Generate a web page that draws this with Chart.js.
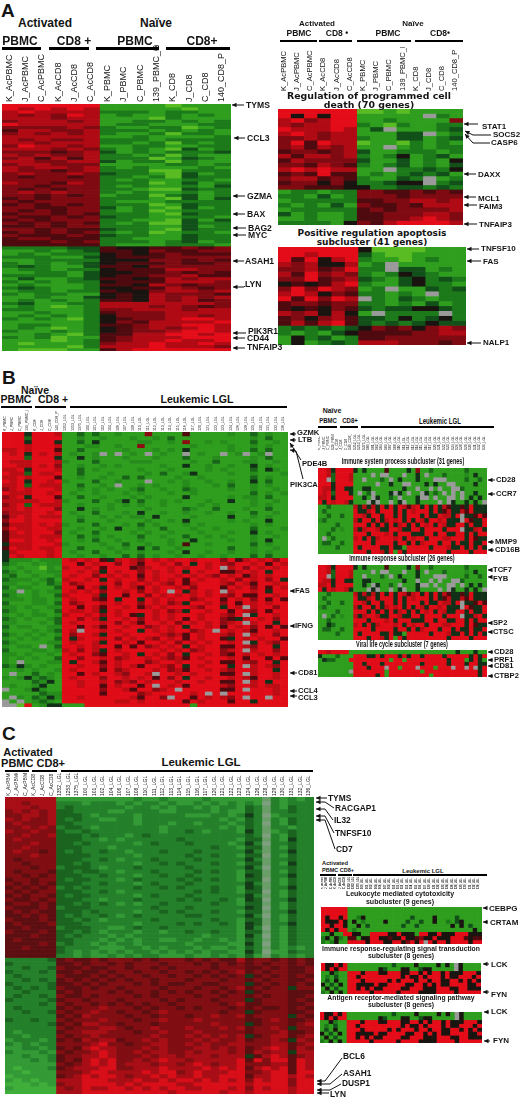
<!DOCTYPE html>
<html><head><meta charset="utf-8">
<script src="https://cdn.jsdelivr.net/npm/chart.js@4/dist/chart.umd.min.js"></script>
<style>
html,body{margin:0;padding:0;background:#fff}
#page{position:relative;width:520px;height:1098px;overflow:hidden;background:#fff;font-family:"Liberation Sans",Arial,sans-serif;filter:blur(.35px)}
#page canvas{position:absolute;display:block}
#page svg{position:absolute;left:0;top:0}
.t{position:absolute;white-space:nowrap;font-weight:bold;color:#141414;line-height:1;transform:translateY(-50%)}
.bar{position:absolute;background:#000}
</style></head><body><div id="page"></div>
<script>
// Cell levels: 0..3 green (bright to dark), 4 black, 5..8 red (dark to bright), 9 muted green, . missing
const SAMPLES_A=["K_AcPBMC","J_AcPBMC","C_AcPBMC","K_AcCD8","J_AcCD8","C_AcCD8","K_PBMC","J_PBMC","C_PBMC","139_PBMC_P","K_CD8","J_CD8","C_CD8","140_CD8_P"];
const LGL=["1352_LGL","1253_LGL","1375_LGL","100_LGL","101_LGL","102_LGL","104_LGL","106_LGL","107_LGL","108_LGL","110_LGL","111_LGL","112_LGL","113_LGL","114_LGL","115_LGL","116_LGL","117_LGL","120_LGL","121_LGL","122_LGL","123_LGL","124_LGL","126_LGL","128_LGL","129_LGL","130_LGL","131_LGL","132_LGL","136_LGL"];
const SAMPLES_B=SAMPLES_A.slice(6).concat(LGL);
const SAMPLES_C=SAMPLES_A.slice(0,6).concat(LGL);

const HEAT_A_MAIN=[
"888888 11110111","878787 11111011","787777 22212211","767687 12112121","777677 11102111","677767 11221212",
"877777 12211122","666676 21122012","577667 22212121","676767 21120221","777777 11211112","767667 22212222",
"776777 22120212","687767 11221122","777676 21210312","666567 31212223","767667 22120211","675757 22201321",
"776677 31220211","677666 11112212","767767 21211121","766567 22200222","676676 32210312","656656 22120322",
"666666 21211221","766576 22201312","665666 21211213","656566 22100322","676766 21211212","665656 12202312",
"565666 22210313","656666 21112222","565656 22201322","665566 31210312","656566 21201222","566565 22210322",
"655656 32211221","565666 22110313","656565 21200322","556566 22211312","665655 32210322","565656 21201221",
"655565 32211322","566555 22111322","555656 22212312","555555 21112221",
"222233 54455656","112123 55465566","121222 45456555","222113 45556666","112222 44466565","212123 45556556",
"232113 55466666","122122 45557766","112213 44556565","222213 45566755","131123 55457677","212122 45557776",
"121112 55476566","232112 44557656","122122 54467767","212211 45476665","112113 45476767","121212 55476756",
"231122 77777776","121012 77767656","221112 66777677","112112 56667777","121212 46667767","212102 45667887",
"111112 46577778","122112 55677887","121012 45676787","211212 45667887","112102 55778878","212011 56777888",
"111012 56778778","101112 67787787","111102 77787776","100011 57888888"];

const HEAT_A1=[
"888888 00101111","848488 11111.21","786788 11211116","767788 21021122","877787 13.11123","787677 11133.12",
"667677 21133123","685877 01102121","675767 11.12122","566567 31122212","757767 21241231","576666 31131214",
"665765 21231213","787877 11.22324","565855 12123231","677565 21132.12","566464 22344.23","665554 42233232",
"122122 66556565","221312 66656666","122222 55667767","212131 65565777","122222 56566667","312112 55666776",
"112112 55667876","222214 65788887"];

const HEAT_A2=[
"888888 40000111","887888 31001111","858478 21101211","767447 12.11111","667568 22.33121","758676 21243211",
"668567 32134232","454578 21134221","686876 12.11323","787465 22121.22","858687 .2132122","566566 22121312",
"545465 32334432","767474 1.2222.2","564675 33242342","575785 32323433",
"232323 46564676","212134 55556677","142312 55666666","141232 77766656"];

const HEAT_B_MAIN=[
"88848887 1131311211 1611115111 1121131211","88838888 1121121112 1121311111 1111121311","88848884 1131411111 2211216112 1211131121",
"88878887 1112211211 6111111211 1121121211","77878885 1131111121 1121214111 1121131311","87848787 12112.1.12 1.1211.121 1.12.12.11",
"88838884 1141211121 1121113111 2111121311","87778887 2111311112 2211111211 3111221121","88778786 1121121211 1112114112 1121141211",
"77848887 1131211111 2111211112 1211131421","87738778 1131112111 1213112411 1121121112","77878885 1121121131 3111121121 1111131211",
"87848878 2111311211 1.11212112 1121141311","77838777 1131121.11 2121112111 2131121211","67878887 1121212112 3112113211 1121121121",
"87778878 1211211121 2111211211 1111131212","67848885 1131121112 1211114111 1121221311","77777887 2111311241 3112121112 1141121121",
"67838777 1121112121 2112111121 2111121211","77878886 1141212111 1211113211 3111211311","67778878 1211311121 4112112112 1121131121",
"57878777 1121121212 2141111211 1141121211","68878888 1131112111 1211214111 1121211411","57778787 2111311121 3121112121 1111121211",
"68778877 1121121411 2113111211 2111131112","57878886 1211311112 1211211121 1121141211","57778777 1131212111 3112113112 1211121121",
"58878878 1121311211 2111211411 1121121411","47778887 2111121131 1211215112 1111131211","58778778 1131112121 4131121111 1131121121",
"47888878 1211311211 2111214112 1121121211","48788878 1121121131 3121121121 1211131311",
"42221222 8787854787 6878788788 8685787868","32112122 8858788687 5887868487 8768878587","21211021 7887858885 6788787887 8.78687878",
"32121122 8878748788 6878784878 8557878488","23112112 8788687878 5878878787 6878578788","32221231 7887848788 6878785878 8786878684",
"22112132 8678878687 8787685788 8768758878","31221113 8858748787 5878878688 8587868587","22.12122 8787868878 6878.84787 8.78878488",
"32112113 7888748858 8687878787 8768558878","22212212 8788658488 4878788678 8587868585","31112213 8678878788 6878674887 8685878788",
"22121122 8858758878 5787888768 8487.78868","32112113 8778748788 8878674887 8858768588","21212212 7887868785 4878788878 8768.48878",
"32121123 8868748878 6878785878 8654787868","22111213 8788878687 5887868787 8678.78848","31221122 8858758878 8678784887 8587868585",
"21112123 87.8878788 4878788678 .878758878","32121212 8688748878 8887675878 8768.78868","21212113 8478878687 8768785878 8548787885",
"32111122 8788748878 5887868787 8878.48768","21221.13 8878788585 8678784878 8558768848","31112212 7868748788 8887878678 8678.78868",
"22121121 8788658878 4878684887 8658787878","21212113 8868878678 8787675878 8878588585","21.11122 8488758788 8678878887 8558768848",
"32421211 8878868787 5887684878 8848.78768","11212112 8788858678 8878675887 8768878848","1.113121 8858788768 87.8878788 8558.78878",
"21242321 8788868878 7858684887 8878758878","11113241 8878878676 8788878878 8558.78488","12112411 8878858788 58.8785888 8768878778",
".1124211 8888868875 88678.8888 8558.88878","11111322 8888858888 678888878. 8.88888878","1.213242 8878888887 5886.88587 8768.88.88",
".1.12321 8888888778 7888885878 8858848888","..081244 1118888888 8888888188 8888888888"];

const HEAT_C_MAIN=[
"777777 1111111 1121121 1112111 111921212","776777 2221222 1212212 1121212 121.21222","777677 2322222 2122121 2212122 132921322",
"676767 3322221 1222211 2222121 132922322","667767 3332122 2212222 2111221 242.12222","767667 3232211 2212222 2222212 132921322",
"676667 3322222 2212221 2212221 232.21322","667676 2332122 2222212 2222212 132922122","766766 3223222 2222212 2321222 142912322",
"667667 3332322 2123222 2222222 232.21322","676666 3332212 1222222 3222222 133921422","666766 3323222 2212322 2322221 242.22322",
"667666 3332221 2222222 2222322 133921322","676656 3232232 2122232 2232222 242922422","666766 3333222 2212222 2322322 133.21322",
"656666 3332232 1222322 2232222 242922322","665666 3323222 2212232 3222322 133921422","666566 2333212 2232222 2322222 242.22322",
"656665 3323322 1222322 2232322 133921322","665656 3332232 2212232 2322222 143922422","566566 3233222 1232222 3232322 133.21322",
"656565 3332232 2212322 2322222 242921322","565656 2323222 2232232 3222322 143922422","656566 3332232 1222222 2232322 133.21322",
"565665 3233222 2212322 2322222 242921322","655656 3332212 2232222 3232232 143.22422","566565 3323232 1212232 2222322 133921322",
"655565 2333222 2222322 2322222 243.21322","565655 3332322 2212232 3222322 133922422","556565 3232232 1232222 2332222 242.21322",
"655565 3323212 2222322 2222322 133921322","565556 3332222 2212222 3232232 143922422","556555 2333221 1232232 2222222 142.21322",
"655565 3323212 2212212 2322322 133921322","555655 3232221 2122222 2221222 142.21322","565555 3322212 1212211 2212212 132921322",
"555565 2322121 2212222 2122221 142.21322","556555 3222211 1221212 2212112 132921212","555555 3212121 2122121 2121221 142.11322","555555 2212112 1212211 1211212 131921212",
"222223 5655656 6656566 6565655 756656565","322222 5565665 6566656 6656565 656566565","223223 6556556 6566565 6666566 655656556",
"322232 5565565 6656656 6565656 756566556","232222 6555656 5665665 6656565 645656565","223232 5656565 6566566 6566656 656566556",
"322223 5565656 6656565 5665566 645656565","232323 6556566 5666656 6656656 756566466","223222 5656665 6566565 6566565 645666555",
"232232 6556566 6656566 6656656 656566556","322223 5665666 5666656 5666566 645666565","222232 6566565 6565665 6666656 755666556",
"232222 5656676 6656566 5656665 656556565","223223 6566766 5665676 6666656 645666556","222222 5657666 6566566 6566766 756666465",
"322322 6566676 6656676 6676666 655676556","222223 5657766 5666566 6666766 645666567","222222 6566677 6566766 6766676 756676466",
"212222 5667776 6656676 6676666 656667556","221222 6566766 6666766 6767676 745677567","122212 5657677 5667676 6676766 756676476",
"212122 6666786 6566776 6767667 766677567","112212 5657877 6667676 6677676 756787576","211121 6566787 6676776 6767776 757677477",
"112112 5667787 6667677 6777677 745787567","111212 5657878 6676787 7677777 858688587","111111 6567878 6777677 6787677 866677587",
"101112 5677788 6677787 7778787 857878587","110111 6667887 7778788 6787778 866788588","011111 5678788 7677878 7787788 857788787",
"101011 7778887 7787787 8878787 868788688","000101 6778888 7878888 7788888 878888688","100000 7678778 8787878 8778887 868788788","000000 7778888 8888887 8888878 878888788"];

const HEAT_B1=[
"88748888 4141111511 1141611311 1111131111","88738887 1111.1..11 1.1141.111 3111121411","88.38887 11.11131.1 41114111.. .111131131",
"88848888 11111.1141 1..1114141 1..1111411","87748844 1144111111 1411.11.1. 11..311111","87838884 1.13.1114. 41.11.4131 .1.1.11411",
"77848888 1141.41131 .1114..1.1 1..1.14141","84878874 111.4.11.1 4.1141111. 1.4114141.",
"11311111 7474748484 8757848484 7544548444","13111111 8447848884 8487888484 5744758444","11311311 8874884884 8488848448 7748.44585",
"23111111 7488484787 8484874887 8444.85448","11113111 8884848484 7848487848 7448848448","11131211 7478874488 7448848888 4888.44784",
"11311111 8884888784 8884448848 8448848488","1.131111 7848478887 8487884888 7788848544","13311311 8888488884 8848478884 8848448448",
"11113111 8488884484 4188888488 8744848484","11111111 8884887481 8488888888 8488884888"];

const HEAT_B2=[
"88748888 4141111511 1141611311 1111131111","88738887 1111.1..11 1.1141.111 3111121411","88.38887 11.11131.1 41114111.. .111131131",
"87748844 1144111111 1411.11.1. 11..311111","77848888 1141.41131 .1114..1.1 1..1.14141","84878874 111.4.11.1 4.1141111. 1.4114141.",
"11311111 7474748484 8757848484 7544548444","13111111 8447848884 8487888484 5744758444","11311311 8874884884 8488848448 7748.44585",
"23111111 7488484787 8484874887 8444.85448","11113111 8884848484 7848487848 7448848448","1.131211 7478874488 7448848888 4888.44784",
"11311111 8884888784 8884448848 8448848488","11431111 7848478887 8487884888 7788848544","13311311 8888488884 8848478884 8848448448",
"11113111 8488884484 4188888488 8744848484","11111111 8884887481 8488888888 8488884888"];

const HEAT_B3=[
"88788881 1111111111 1111111111 1114111411","41113111 8884484888 4848848888 4888884848","14331118 8888888818 8188888888 8488814841",
"11111111 8848884888 8888848888 8488848844","11111111 8884888.88 1888.88818 88.88.8.48","1111111. 8888888188 8888818888 8888888848",
"11111111 8888848188 8888888188 8888888848"];

const HEAT_C1=[
"888888 1111111111 1111111111 1111111111","888888 1111111111 1111111111 1111111111","848848 1124111111 1111311114 1111311111",
"844484 1412111141 1113113114 1121341111","884884 1141311111 1131131111 1114141311","848488 1211111111 1111111111 1111111141",
"114118 8441188884 4844418844 8444888444","241421 5514488445 4484456448 4448885455","212411 8888488844 8846848.84 8848888488"];

const HEAT_C2=[
"844848 1111111111 3111141111 4141.41111","848488 1111111431 1144113441 1111.41111","114211 8884888448 8844884848 8484448884",
"121311 8848888888 8848448488 8484488848","131411 8884888884 8488848848 8448848484","413141 8844448448 8884488484 8448888448",
"141311 8848484488 8844888444 8884488444","214141 8888848888 8488884444 8888488888"];

const PANEL_LETTERS=["A","B","C"];
const COLORS={0:"#58bc22",1:"#2f9e1e",2:"#1c7a1a",3:"#12501a",4:"#1a1410",5:"#4e0a0e",6:"#800a12",7:"#b00a14",8:"#e40c18",9:"#5f9a56",".":"#9a9a9a"};
const COLORS_B={...COLORS,2:"#268c1c",3:"#186418",4:"#123018",6:"#8c0a12",7:"#bc0c14",8:"#e00c18"};
const COLORS_C={0:"#3fae3a",1:"#339a36",2:"#24802a",3:"#1a6420",4:"#143c18",5:"#5c0e10",6:"#800e12",7:"#a80e16",8:"#d80e18",9:"#6a9e68",".":"#7f9f7f"};

const page=document.getElementById("page");
function heat(x,y,w,h,rows,opt){
  opt=opt||{};
  const cells=rows.map(r=>r.replace(/ /g,"").split(""));
  const n=cells[0].length, axis=opt.axis||0, labels=opt.labels||Array.from({length:n},(_,i)=>String(i)), pal=opt.pal||COLORS, size=opt.size||9;
  const cv=document.createElement("canvas");
  cv.width=w;cv.height=h+axis;cv.style.left=x+"px";cv.style.top=(y-axis)+"px";cv.style.width=w+"px";cv.style.height=(h+axis)+"px";
  page.appendChild(cv);
  new Chart(cv.getContext("2d"),{
    type:"bar",
    data:{labels:labels,datasets:cells.map((row,r)=>({
      data:labels.map(()=>[r,r+1]),
      backgroundColor:labels.map((_,c)=>pal[row[c]]||pal[1]),
      borderWidth:0,barPercentage:1,categoryPercentage:1,grouped:false
    }))},
    options:{responsive:false,animation:false,devicePixelRatio:1,maintainAspectRatio:false,
      layout:{padding:0},
      plugins:{legend:{display:false},tooltip:{enabled:false},title:{display:false}},
      scales:{
        x:{type:"category",position:"top",display:!!axis,offset:true,grid:{display:false,drawTicks:false},border:{display:false},
          afterFit:s=>{s.height=axis;s.paddingLeft=0;s.paddingRight=0;},
          ticks:{autoSkip:false,minRotation:90,maxRotation:90,padding:opt.pad||2,color:"#141414",labelOffset:size*1.2-1,
            font:{family:"Liberation Sans",size:size,weight:opt.weight||"normal"}}},
        y:{type:"linear",display:false,reverse:true,min:0,max:cells.length}
      }}
  });
}
heat(2,104,229,247,HEAT_A_MAIN,{axis:60,labels:SAMPLES_A,size:9,pad:2});
heat(278,109,185,116,HEAT_A1,{axis:62,labels:SAMPLES_A,size:7.6,pad:18});
heat(278,247,188,98,HEAT_A2);
heat(2,432,286,275,HEAT_B_MAIN,{axis:22,labels:SAMPLES_B,size:3.6,pad:1,pal:COLORS_B});
heat(318,468,169,86,HEAT_B1,{axis:34,labels:SAMPLES_B,size:3.4,pad:18,pal:COLORS_B});
heat(318,565,169,75,HEAT_B2,{pal:COLORS_B});
heat(318,650,169,27,HEAT_B3,{pal:COLORS_B});
heat(5,797,309,297,HEAT_C_MAIN,{axis:24,labels:SAMPLES_C,size:5,pad:1,pal:COLORS_C});
heat(321,907,161,37,HEAT_C1,{axis:30,labels:SAMPLES_C,size:2.6,pad:18,weight:"bold"});
heat(321,963,160,31,HEAT_C2);
heat(320,1012,162,31,HEAT_C2);

function text(s,x,y,size,o){
  o=o||{};const e=document.createElement("div");e.className="t";e.textContent=s;
  e.style.left=x+"px";e.style.top=y+"px";e.style.fontSize=size+"px";
  if(o.f)e.style.fontFamily=o.f;if(o.ls)e.style.letterSpacing=o.ls+"px";
  if(o.c)e.style.transform="translate(-50%,-50%)"+(o.sx?" scaleX("+o.sx+")":"");
  page.appendChild(e);
}
function bar(a,b,y,t){const e=document.createElement("div");e.className="bar";e.style.left=a+"px";e.style.width=(b-a)+"px";e.style.top=(y-t/2)+"px";e.style.height=t+"px";page.appendChild(e);}
const DJ="DejaVu Sans";
// Panel A main
text(PANEL_LETTERS[0],1,10,19);
text("Activated",45,23,12,{c:1});text("Naïve",156,23,12,{c:1});
text("PBMC",20,41,12,{c:1});text("CD8 +",74,41,12,{c:1});text("PBMC",135,41,12,{c:1});text("p",155,46,7);text("CD8+",202,41,12,{c:1});
bar(2,41,48,3);bar(49,89,48,3);bar(96,159,48,3);bar(166,230,48,3);
// Panel A right
text("Activated",317,24,8,{c:1});text("Naïve",413,24,8,{c:1});
text("PBMC",299,33,8.5,{c:1});text("CD8 •",337,33,8.5,{c:1});text("PBMC",388,33,8.5,{c:1});text("CD8•",440,33,8.5,{c:1});
bar(280,317,41,2.5);bar(319,352,41,2.5);bar(357,411,41,2.5);bar(415,463,41,2.5);
text("Regulation of programmed cell",369,96,9.4,{c:1,f:DJ});text("death  (70 genes)",369,105,9.4,{c:1,f:DJ});
text("Positive regulation apoptosis",372,233,9,{c:1,f:DJ});text("subcluster (41 genes)",372,242,9,{c:1,f:DJ});
// Panel B
text(PANEL_LETTERS[1],2,377,19);
text("Naïve",35,390,10.5,{c:1});text("PBMC",16,399,10.5,{c:1});text("CD8 +",53,399,10.5,{c:1});text("Leukemic LGL",197,399,10.6,{c:1});
bar(1,32,407,2.5);bar(35,66,407,2.5);bar(70,287,407,2.5);
text("Naïve",332,410,7,{c:1});text("PBMC",328,421,8,{c:1,sx:.75});text("CD8+",350,421,8,{c:1,sx:.75});text("Leukemic LGL",440,421,8.5,{c:1,sx:.72});
bar(318,337,427,1.6);bar(340,358,427,1.6);bar(361,494,427,1.6);
text("Immune system process subcluster (31 genes)",403,461,9.5,{c:1,sx:.58});
text("Immune response subcluster (26 genes)",402,558,9.5,{c:1,sx:.58});
text("Viral life cycle subcluster (7 genes)",402,644,9.5,{c:1,sx:.58});
// Panel C
text(PANEL_LETTERS[2],2,733,19);
text("Activated",28,752,11,{c:1});text("PBMC CD8+",33,763,11,{c:1});text("Leukemic LGL",201,763,11.5,{c:1});
bar(5,29,771,2);bar(32,57,771,2);bar(61,313,771,2);
text("Activated",335,864,5.8,{c:1});text("PBMC CD8+",338,871,5.5,{c:1});text("Leukemic LGL",423,871,6,{c:1});
bar(320,336,875,1.2);bar(338,352,875,1.2);bar(353,487,875,1.2);
text("Leukocyte mediated cytotoxicity",400,893,7,{c:1});text("subcluster (9 genes)",400,901,7,{c:1});
text("Immune response-regulating signal transduction",401,949,6.8,{c:1});text("subcluster (8 genes)",401,956,6.8,{c:1});
text("Antigen receptor-mediated signaling pathway",401,998,6.8,{c:1});text("subcluster (8 genes)",401,1005,6.8,{c:1});

// gene name, text x, text y, size, then leader points starting at the arrow head
const ANNOT=[
["TYMS",246,105,8.6,[[232,105],[244,105]]],["CCL3",247,138,8.6,[[234,138],[245,138]]],
["GZMA",247,196,8.6,[[233,196],[245,196]]],["BAX",247,214,8.6,[[233,214],[245,214]]],["BAG2",248,228,8.6,[[233,228],[246,228]]],["MYC",248,235,8.6,[[233,235],[246,235]]],
["ASAH1",245,261,8.6,[[233,261],[244,261]]],["LYN",245,284,8.6,[[233,287],[244,287],[245,286]]],
["PIK3R1",248,331,8.6,[[233,333],[246,333]]],["CD44",247,338,8.6,[[233,338],[245,338]]],["TNFAIP3",247,347,8.6,[[233,348],[245,348]]],
["STAT1",482,127,8,[[464,124],[478,124]]],["SOCS2",493,135,8,[[465,131],[473,135],[491,135]]],["CASP6",491,143,8,[[465,134],[473,143],[490,143]]],
["DAXX",478,175,8,[[464,174],[476,174]]],["MCL1",478,199,8,[[464,197],[476,197]]],["FAIM3",479,207,8,[[464,205],[477,205]]],["TNFAIP3",479,225,8,[[464,224],[477,224]]],
["TNFSF10",481,249,8,[[467,249],[479,249]]],["FAS",483,262,8,[[467,261],[481,261]]],["NALP1",483,343,8,[[467,343],[481,343]]],
["GZMK",297,433,7.6,[[290,434],[296,434]]],["LTB",298,440,7.6,[[290,440],[296,440]]],["PDE4B",302,464,7.6,[[290,443],[301,460]]],["PIK3CA",290,485,7.6,[[290,450],[296,451],[303,479]]],
["FAS",295,591,7.6,[[290,591],[294,591]]],["IFNG",295,626,7.6,[[290,626],[294,626]]],["CD81",298,673,7.6,[[290,673],[297,673]]],["CCL4",298,691,7.6,[[290,691],[297,691]]],["CCL3",298,698,7.6,[[290,696],[297,696]]],
["CD28",496,480,7.6,[[488,480],[495,480]]],["CCR7",496,494,7.6,[[488,494],[495,494]]],["MMP9",495,542,7.6,[[488,542],[494,542]]],["CD16B",495,550,7.6,[[488,550],[494,550]]],
["TCF7",493,570,7.6,[[488,570],[492,570]]],["FYB",493,579,7.6,[[488,577],[492,577]]],["SP2",493,623,7.6,[[488,623],[492,623]]],["CTSC",493,632,7.6,[[488,632],[492,632]]],
["CD28",494,652,7.6,[[488,652],[493,652]]],["PRF1",494,660,7.6,[[488,660],[493,660]]],["CD81",494,666,7.6,[[488,666],[493,666]]],["CTBP2",494,676,7.6,[[488,676],[493,676]]],
["TYMS",328,798,8.4,[[316,798],[327,798]]],["RACGAP1",335,808,8.4,[[316,802],[325,802],[334,808]]],["IL32",334,820,8.4,[[316,809],[325,809],[333,820]]],["TNFSF10",335,833,8.4,[[316,816],[325,816],[334,833]]],["CD7",336,849,8.4,[[316,820],[325,820],[335,849]]],
["CEBPG",489,909,8,[[483,908],[487,908]]],["CRTAM",490,923,8,[[483,922],[488,922]]],["LCK",491,965,8,[[483,964],[489,964]]],["FYN",491,995,8,[[483,992],[489,992]]],["LCK",491,1012,8,[[484,1012],[489,1012]]],["FYN",493,1041,8,[[484,1041],[490,1041]]],
["BCL6",343,1056,8.4,[[317,1081],[325,1081],[342,1058]]],["ASAH1",343,1073,8.4,[[317,1084],[330,1084],[342,1074]]],["DUSP1",342,1083,8.4,[[317,1090],[330,1090],[341,1084]]],["LYN",330,1094,8.4,[[317,1093],[329,1093]]]
];
const NS="http://www.w3.org/2000/svg";
const svg=document.createElementNS(NS,"svg");svg.setAttribute("width",520);svg.setAttribute("height",1098);page.appendChild(svg);
ANNOT.forEach(a=>{
  text(a[0],a[1],a[2],a[3]);
  const p=a[4],pl=document.createElementNS(NS,"polyline");
  pl.setAttribute("points",p.map(q=>q.join(",")).join(" "));pl.setAttribute("fill","none");pl.setAttribute("stroke","#111");pl.setAttribute("stroke-width","1");svg.appendChild(pl);
  const dx=p[1][0]-p[0][0],dy=p[1][1]-p[0][1],L=Math.hypot(dx,dy),ux=dx/L,uy=dy/L,h=4.5,ww=2.2;
  const tri=document.createElementNS(NS,"polygon");
  tri.setAttribute("points",[[p[0][0],p[0][1]],[p[0][0]+ux*h-uy*ww,p[0][1]+uy*h+ux*ww],[p[0][0]+ux*h+uy*ww,p[0][1]+uy*h-ux*ww]].map(q=>q.join(",")).join(" "));
  tri.setAttribute("fill","#111");svg.appendChild(tri);
});
</script></body></html>
